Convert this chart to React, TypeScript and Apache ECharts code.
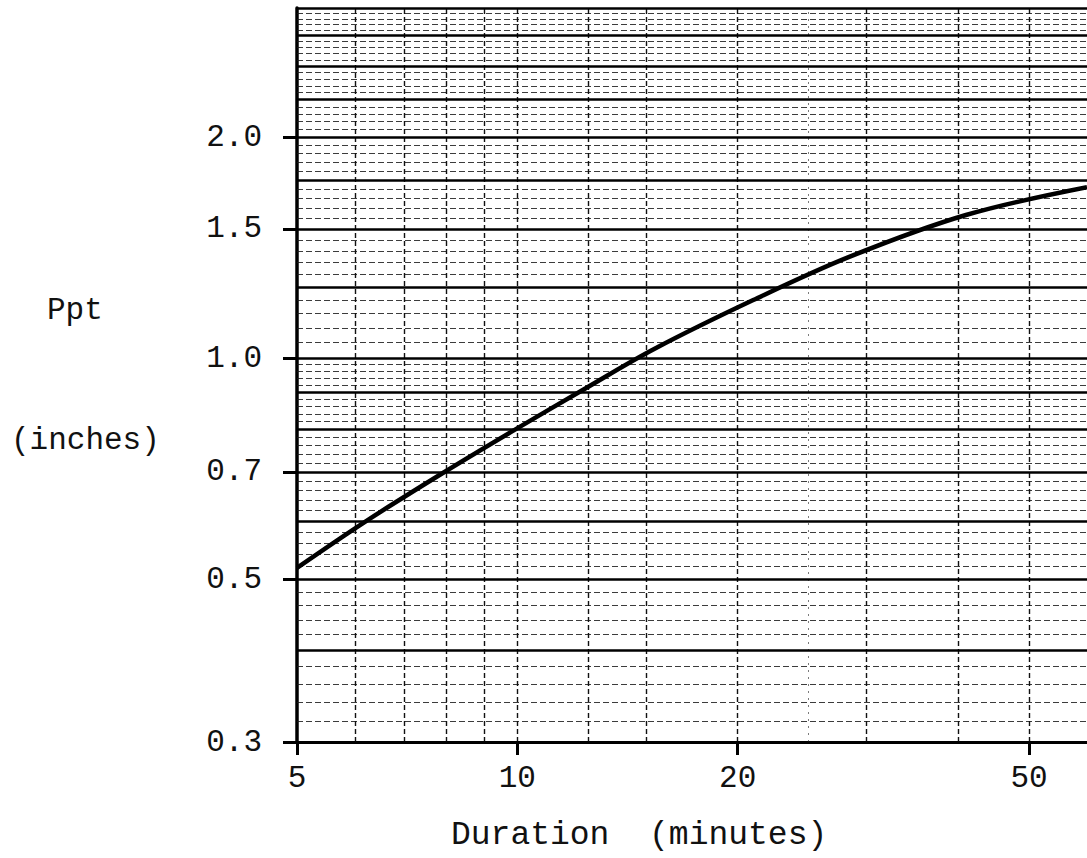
import React, { useEffect, useRef } from "react";
import * as echarts from "echarts";

// Curve (log-log paper)
const durations = [5, 6.2, 7.9, 9.9, 12.4, 15.4, 21, 28.4, 41, 60];
const pptValues = [0.518, 0.599, 0.697, 0.798, 0.91, 1.03, 1.2, 1.374, 1.567, 1.71];

// Tick labels
const xTickValues = [5, 10, 20, 50];
const yTickValues = [0.3, 0.5, 0.7, 1.0, 1.5, 2.0];

// Graph-paper rulings
const paperMajorY = [0.3, 0.4, 0.5, 0.6, 0.7, 0.8, 0.9, 1.0, 1.25, 1.5, 1.75, 2.0, 2.25, 2.5, 2.75, 3.0];
const paperMinorDivisions = 5;
const paperX = [6, 7, 8, 9, 10, 12.5, 15, 20, 30, 40, 50];
const paperFaintX = [25];

const FONT = "'Liberation Mono', 'Courier New', monospace";

export default function App() {
  const ref = useRef<HTMLDivElement>(null);

  useEffect(() => {
    if (!ref.current) return;
    const chart = echarts.init(ref.current, null, { renderer: "svg" });

    const minorY: number[] = [];
    for (let i = 0; i < paperMajorY.length - 1; i++) {
      const a = paperMajorY[i];
      const b = paperMajorY[i + 1];
      for (let k = 1; k < paperMinorDivisions; k++) {
        minorY.push(+(a + ((b - a) * k) / paperMinorDivisions).toFixed(4));
      }
    }

    const gridLines: any[] = [];
    minorY.forEach((v) =>
      gridLines.push({
        yAxis: v,
        lineStyle: { color: "#1a1a1a", width: 1.1, type: [6, 3], opacity: 0.85 },
      })
    );
    paperFaintX.forEach((v) =>
      gridLines.push({
        xAxis: v,
        lineStyle: { color: "#444", width: 1, type: [2, 5], opacity: 0.7 },
      })
    );
    paperX.forEach((v) =>
      gridLines.push({
        xAxis: v,
        lineStyle: { color: "#111", width: 1.4, type: [5, 3] },
      })
    );
    paperMajorY.forEach((v) =>
      gridLines.push({
        yAxis: v,
        lineStyle: { color: "#000", width: 2.6, type: "solid" },
      })
    );

    chart.setOption({
      animation: false,
      backgroundColor: "#ffffff",
      grid: { left: 297, right: 0, top: 8, bottom: 116, containLabel: false },
      xAxis: {
        type: "log",
        logBase: 10,
        min: 5,
        max: 60,
        axisLine: { show: true, onZero: false, lineStyle: { color: "#000", width: 3 } },
        axisTick: {
          show: true,
          customValues: xTickValues,
          length: 13,
          lineStyle: { color: "#000", width: 3 },
        },
        axisLabel: {
          customValues: xTickValues,
          margin: 21,
          fontFamily: FONT,
          fontSize: 31,
          color: "#111",
          formatter: (v: number) => String(v),
        },
        splitLine: { show: false },
        minorTick: { show: false },
        minorSplitLine: { show: false },
      },
      yAxis: {
        type: "log",
        logBase: 10,
        min: 0.3,
        max: 3,
        axisLine: { show: true, onZero: false, lineStyle: { color: "#000", width: 3.5 } },
        axisTick: {
          show: true,
          customValues: yTickValues,
          length: 14,
          lineStyle: { color: "#000", width: 3 },
        },
        axisLabel: {
          customValues: yTickValues,
          margin: 35,
          fontFamily: FONT,
          fontSize: 31,
          color: "#111",
          formatter: (v: number) => v.toFixed(1),
        },
        splitLine: { show: false },
        minorTick: { show: false },
        minorSplitLine: { show: false },
      },
      graphic: [
        {
          type: "text",
          left: 47,
          top: 295,
          style: { text: "Ppt", font: `31px ${FONT}`, fill: "#111" },
        },
        {
          type: "text",
          left: 11,
          top: 425,
          style: { text: "(inches)", font: `31px ${FONT}`, fill: "#111" },
        },
        {
          type: "text",
          left: 451,
          top: 819,
          style: { text: "Duration  (minutes)", font: `33px ${FONT}`, fill: "#111" },
        },
      ],
      series: [
        {
          type: "line",
          data: [],
          silent: true,
          z: 1,
          markLine: {
            silent: true,
            symbol: ["none", "none"],
            label: { show: false },
            emphasis: { disabled: true },
            animation: false,
            data: gridLines,
          },
        },
        {
          type: "line",
          data: durations.map((d, i) => [d, pptValues[i]]),
          smooth: 0.35,
          symbol: "none",
          z: 10,
          lineStyle: { color: "#000", width: 4.5 },
        },
      ],
    });

    return () => chart.dispose();
  }, []);

  return (
    <div
      ref={ref}
      style={{ position: "fixed", left: 0, top: 0, width: 1087, height: 858, background: "#fff" }}
    />
  );
}
